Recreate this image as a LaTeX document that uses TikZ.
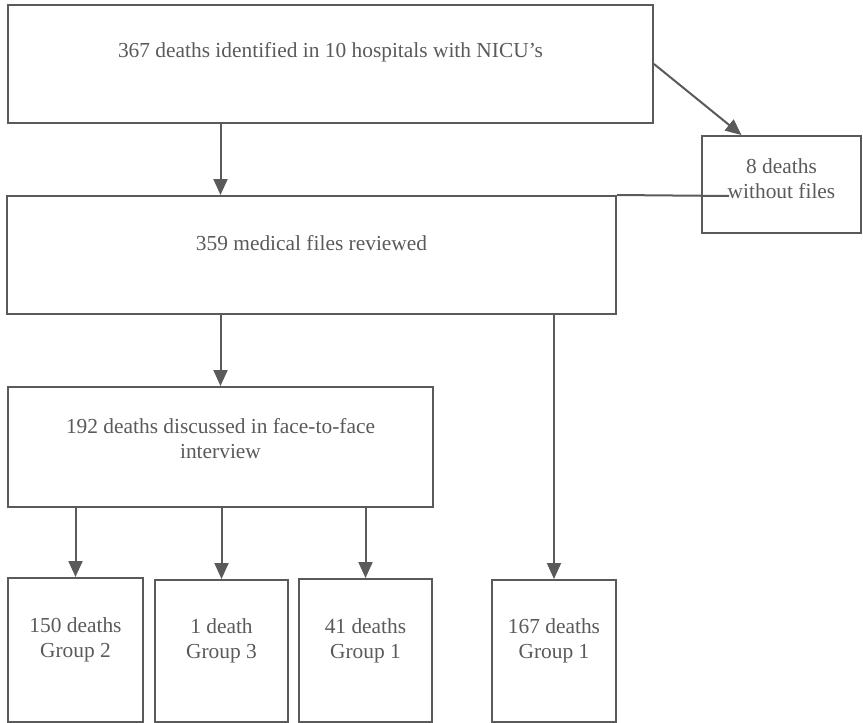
\documentclass[tikz,border=0pt]{standalone}
\usepackage{fontspec}
\setmainfont{Liberation Serif}
\usepackage{xcolor}
\usetikzlibrary{arrows.meta,positioning}
\definecolor{ink}{HTML}{5A5A5A}
\tikzset{%
	box/.style   = {draw=ink, line width=1pt, rectangle, text=ink, align=center, inner sep=0pt, font=\fontsize{10.7}{12.5}\selectfont},
	arrow/.style = {draw=ink, line width=1pt, -{Triangle[width=7pt,length=8pt]}},
}

\begin{document}
\begin{tikzpicture}[x=0.5pt,y=-0.5pt]
		\useasboundingbox (0,0) rectangle (863,723);
		
		% boxes
		\node[box, minimum width=322.5pt, minimum height=59pt, text depth=14pt] (ident) at (330.5,64) {367 deaths identified in 10 hospitals with NICU’s};
		\node[box, minimum width=79.5pt, minimum height=48.5pt, text depth=6pt] (nofile) at (781.5,184.5) {8 deaths\\without files};
		\node[box, minimum width=304.5pt, minimum height=59pt, text depth=12pt] (review) at (311.5,255) {359 medical files reviewed};
		\node[box, minimum width=212.5pt, minimum height=60pt, text depth=9pt] (interview) at (220.5,447) {192 deaths discussed in face-to-face\\interview};
		
		\node[box, minimum width=67.5pt, minimum height=72pt, text depth=12pt] (grpA) at (75.5,650) {150 deaths\\Group 2};
		\node[box, minimum width=66.5pt, minimum height=71pt, text depth=12pt] (grpB) at (221.5,651) {1 death\\Group 3};
		\node[box, minimum width=66.5pt, minimum height=71.5pt, text depth=12pt] (grpC) at (365.5,650.5) {41 deaths\\Group 1};
		\node[box, minimum width=62pt, minimum height=71pt, text depth=12pt] (grpD) at (554,651) {167 deaths\\Group 1};
		
		% top line of the review box runs on into the next box
		\coordinate (strike) at (729,196);
		\draw[ink, line width=1pt] (review.north east) -- (strike);
		
		% arrows
		\draw[arrow] (ident.east) -- ([xshift=-20pt]nofile.north);
		\draw[arrow] (interview.north |- ident.south) -- (interview.north |- review.north);
		\draw[arrow] (review.south -| interview.north) -- (interview.north);
		\draw[arrow] (grpD.north |- review.south) -- (grpD.north);
		
		\foreach \g in {grpA,grpB,grpC} \draw[arrow] (\g.north |- interview.south) -- (\g.north);
		\end{tikzpicture}
\end{document}
